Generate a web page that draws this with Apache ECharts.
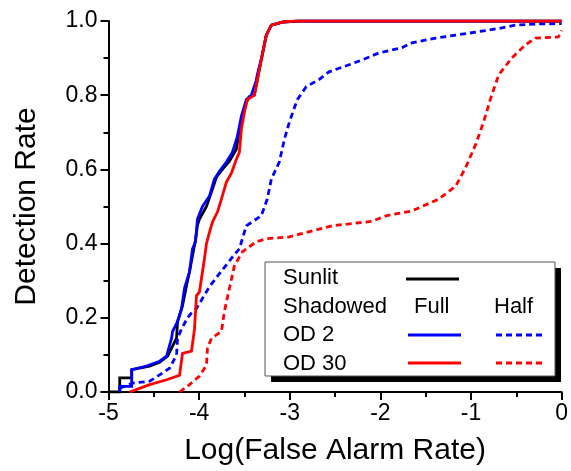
<!DOCTYPE html>
<html>
<head>
<meta charset="utf-8">
<script src="https://cdn.jsdelivr.net/npm/echarts@6/dist/echarts.min.js"></script>
<style>
html,body{margin:0;padding:0;background:#fff;}
#chart{width:571px;height:471px;}
</style>
</head>
<body>
<div id="chart"></div>
<script>
// ---- data (x = log10 false alarm rate, y = detection rate) ----
var xTicks = [-5, -4, -3, -2, -1, 0];
var yTicks = [0.0, 0.2, 0.4, 0.6, 0.8, 1.0];

var sunlitFull = [
  [-5.0,0],[-4.876,0],[-4.876,0.038],[-4.744,0.038],[-4.744,0.06],[-4.546,0.07],[-4.436,0.08],
  [-4.348,0.097],[-4.326,0.097],[-4.304,0.118],[-4.249,0.145],[-4.238,0.19],[-4.216,0.206],
  [-4.183,0.233],[-4.139,0.287],[-4.106,0.324],[-4.073,0.367],[-4.04,0.41],[-4.018,0.45],
  [-3.996,0.466],[-3.919,0.50],[-3.853,0.547],[-3.809,0.579],[-3.743,0.60],[-3.666,0.622],
  [-3.589,0.654],[-3.556,0.708],[-3.523,0.743],[-3.479,0.78],[-3.446,0.796],[-3.391,0.80],
  [-3.358,0.84],[-3.347,0.855],[-3.303,0.909],[-3.259,0.962],[-3.203,0.989],[-3.082,0.997],
  [-2.9,1.0],[0,1.0]
];
var od2Full = [
  [-4.876,0],[-4.876,0.015],[-4.744,0.015],[-4.744,0.06],[-4.579,0.07],[-4.436,0.083],
  [-4.359,0.097],[-4.304,0.145],[-4.293,0.163],[-4.238,0.19],[-4.194,0.225],[-4.161,0.28],
  [-4.106,0.324],[-4.073,0.386],[-4.04,0.405],[-4.018,0.466],[-3.963,0.50],[-3.886,0.528],
  [-3.831,0.574],[-3.776,0.595],[-3.699,0.62],[-3.633,0.646],[-3.578,0.689],[-3.534,0.743],
  [-3.479,0.788],[-3.424,0.80],[-3.369,0.84],[-3.358,0.855],[-3.303,0.909],[-3.259,0.962],
  [-3.203,0.989],[-3.082,0.997],[-2.9,1.0],[0,1.0]
];
var od30Full = [
  [-4.766,0],[-4.546,0.02],[-4.359,0.033],[-4.216,0.045],[-4.183,0.104],[-4.084,0.11],
  [-4.051,0.17],[-4.029,0.26],[-3.996,0.27],[-3.941,0.36],[-3.919,0.40],[-3.886,0.43],
  [-3.853,0.458],[-3.798,0.485],[-3.754,0.52],[-3.699,0.566],[-3.644,0.59],[-3.589,0.627],
  [-3.556,0.646],[-3.534,0.708],[-3.501,0.753],[-3.468,0.788],[-3.391,0.80],[-3.358,0.84],
  [-3.347,0.855],[-3.303,0.909],[-3.259,0.962],[-3.203,0.989],[-3.06,0.998],[-2.9,1.0],[0,1.0]
];
var od2Half = [
  [-4.876,0.01],[-4.733,0.024],[-4.546,0.029],[-4.436,0.046],[-4.326,0.064],[-4.249,0.1],
  [-4.238,0.145],[-4.194,0.17],[-4.128,0.2],[-4.073,0.217],[-4.029,0.225],[-3.886,0.284],
  [-3.776,0.319],[-3.644,0.36],[-3.556,0.386],[-3.479,0.448],[-3.314,0.475],[-3.248,0.52],
  [-3.203,0.574],[-3.115,0.62],[-3.06,0.68],[-3.005,0.727],[-2.917,0.788],[-2.818,0.823],
  [-2.677,0.842],[-2.567,0.863],[-2.345,0.882],[-2.202,0.895],[-2.015,0.914],[-1.762,0.928],
  [-1.652,0.941],[-1.388,0.954],[-1.168,0.962],[-0.947,0.97],[-0.694,0.98],[-0.507,0.989],
  [-0.255,0.992],[0,0.993]
];
var od30Half = [
  [-4.216,0],[-4.106,0.02],[-3.996,0.043],[-3.919,0.072],[-3.908,0.118],[-3.864,0.145],
  [-3.754,0.163],[-3.721,0.217],[-3.666,0.279],[-3.611,0.34],[-3.523,0.378],[-3.369,0.405],
  [-3.259,0.413],[-3.005,0.418],[-2.818,0.43],[-2.532,0.448],[-2.092,0.46],[-1.938,0.475],
  [-1.652,0.488],[-1.355,0.52],[-1.168,0.555],[-1.057,0.606],[-0.947,0.668],[-0.859,0.729],
  [-0.78,0.794],[-0.694,0.855],[-0.551,0.9],[-0.398,0.936],[-0.287,0.954],[-0.035,0.957],[0,0.975]
];

var xTitle = 'Log(False Alarm Rate)';
var yTitle = 'Detection Rate';
var legendRows = ['Sunlit', 'Shadowed', 'OD 2', 'OD 30'];
var legendCols = ['Full', 'Half'];

// ---- chart ----
var FONT = '"Liberation Sans", Arial, sans-serif';
var chart = echarts.init(document.getElementById('chart'), null, {renderer: 'canvas'});

function lineSeries(name, data, color, dashed, z) {
  return {
    name: name, type: 'line', data: data, showSymbol: false, symbol: 'none',
    smooth: false, z: z, animation: false,
    lineStyle: {color: color, width: 2.8, type: dashed ? [6, 4] : 'solid', cap: 'butt', join: 'miter'}
  };
}

function axisCommon() {
  return {
    axisLine: {show: true, onZero: false, lineStyle: {color: '#000', width: 2}},
    axisTick: {show: true, inside: false, length: 8, lineStyle: {color: '#000', width: 2}},
    minorTick: {show: true, splitNumber: 2, length: 5, lineStyle: {color: '#000', width: 2}},
    splitLine: {show: false},
    minorSplitLine: {show: false}
  };
}

var xa = axisCommon();
Object.assign(xa, {
  type: 'value', min: xTicks[0], max: xTicks[xTicks.length - 1], interval: 1,
  name: xTitle, nameLocation: 'middle', nameGap: 44,
  nameTextStyle: {fontSize: 30, color: '#000', fontFamily: FONT},
  axisLabel: {fontSize: 23, color: '#000', fontFamily: FONT, margin: 10,
    formatter: function (v) { return String(v); }}
});
var ya = axisCommon();
Object.assign(ya, {
  type: 'value', min: yTicks[0], max: yTicks[yTicks.length - 1], interval: 0.2,
  name: yTitle, nameLocation: 'middle', nameGap: 67, nameRotate: 90,
  nameTextStyle: {fontSize: 30, color: '#000', fontFamily: FONT},
  axisLabel: {fontSize: 23, color: '#000', fontFamily: FONT, margin: 11,
    formatter: function (v) { return v.toFixed(1); }}
});

var LX = 265, LY = 262, LW = 290, LH = 114;
var rowY = [278, 307, 335, 364];
var graphics = [
  {type: 'rect', shape: {x: LX + 6, y: LY + 6, width: LW, height: LH}, style: {fill: '#000'}, z: 100},
  {type: 'rect', shape: {x: LX, y: LY, width: LW, height: LH}, style: {fill: '#fff', stroke: '#555', lineWidth: 1}, z: 101}
];
legendRows.forEach(function (t, i) {
  graphics.push({type: 'text', x: 283, y: rowY[i], z: 102,
    style: {text: t, fontSize: 22, fontFamily: FONT, fill: '#000', verticalAlign: 'middle'}});
});
graphics.push({type: 'text', x: 414, y: rowY[1], z: 102,
  style: {text: legendCols[0], fontSize: 22, fontFamily: FONT, fill: '#000', verticalAlign: 'middle'}});
graphics.push({type: 'text', x: 494, y: rowY[1], z: 102,
  style: {text: legendCols[1], fontSize: 22, fontFamily: FONT, fill: '#000', verticalAlign: 'middle'}});
function seg(x1, x2, y, color, dashed) {
  return {type: 'line', z: 102, shape: {x1: x1, y1: y, x2: x2, y2: y},
    style: {stroke: color, lineWidth: 3, lineDash: dashed ? [6, 4] : null}};
}
graphics.push(seg(406, 459, 279, '#000', false));
graphics.push(seg(408, 461, 335, '#0000ff', false));
graphics.push(seg(496, 546, 335, '#0000ff', true));
graphics.push(seg(408, 461, 363, '#ff0000', false));
graphics.push(seg(496, 546, 363, '#ff0000', true));

chart.setOption({
  animation: false,
  backgroundColor: '#fff',
  grid: {left: 108.5, right: 7.5, top: 21, bottom: 77, containLabel: false},
  xAxis: xa,
  yAxis: ya,
  series: [
    lineSeries('Sunlit Full', sunlitFull, '#000000', false, 2),
    lineSeries('OD 2 Full', od2Full, '#0000ff', false, 3),
    lineSeries('OD 2 Half', od2Half, '#0000ff', true, 3),
    lineSeries('OD 30 Full', od30Full, '#ff0000', false, 4),
    lineSeries('OD 30 Half', od30Half, '#ff0000', true, 4)
  ],
  graphic: graphics
});
</script>
</body>
</html>
